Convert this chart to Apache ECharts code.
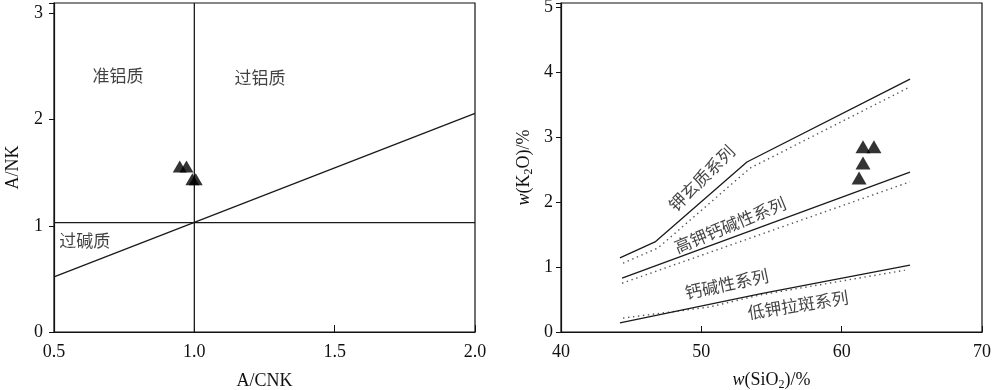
<!DOCTYPE html>
<html><head><meta charset="utf-8">
<script src="https://cdn.jsdelivr.net/npm/echarts@6/dist/echarts.min.js"></script>
<style>html,body{margin:0;padding:0;background:#fff}#c{width:1000px;height:390px}</style>
</head><body><div id="c"></div><script>
// ---- Left diagram: A/NK vs A/CNK ----
const acnk = [0.948, 0.972, 0.993, 1.005];
const ank = [1.56, 1.56, 1.44, 1.44];
const lineVertical = [[1.0, 0], [1.0, 3.1]];
const lineHorizontal = [[0.5, 1.03], [2.0, 1.03]];
const lineDiagonal = [[0.5, 0.52], [2.0, 2.06]];
const leftTextLabels = ['准铝质', '过铝质', '过碱质'];
const leftTextX = [0.728, 1.234, 0.61];
const leftTextY = [2.42, 2.40, 0.865];

// ---- Right diagram: K2O vs SiO2 ----
const sio2 = [61.52, 62.3, 61.52, 61.24];
const k2o = [2.85, 2.85, 2.6, 2.37];
const shoshoniteSolid = [[44.2, 1.14], [46.7, 1.385], [53.25, 2.615], [64.87, 3.89]];
const shoshoniteDotted = [[44.42, 1.06], [46.9, 1.29], [53.47, 2.52], [64.87, 3.77]];
const highKSolid = [[44.35, 0.83], [64.87, 2.46]];
const highKDotted = [[44.35, 0.75], [64.87, 2.31]];
const calcAlkSolid = [[44.2, 0.14], [54.18, 0.585], [64.87, 1.03]];
const calcAlkDotted = [[44.42, 0.215], [50.6, 0.385], [54.18, 0.57], [64.5, 0.95]];
const rightTextLabels = ['钾玄质系列', '高钾钙碱性系列', '钙碱性系列', '低钾拉斑系列'];
const rightTextX = [50.03, 52.04, 51.81, 56.89];
const rightTextY = [2.365, 1.646, 0.738, 0.415];
const rightTextAngle = [45, 22.5, 12, 9];

const serif = '"Liberation Serif", "Times New Roman", serif';
const cjk = '"Noto Sans CJK SC", sans-serif';
const black = '#111';

function intLabel(v) { return Math.abs(v - Math.round(v)) < 1e-6 ? String(Math.round(v)) : ''; }

function solid(data, xi) {
  return { type: 'line', xAxisIndex: xi, yAxisIndex: xi, data: data, symbol: 'none', silent: true,
    lineStyle: { color: '#1a1a1a', width: 1.3 }, z: 3 };
}
function dotted(data, xi) {
  return { type: 'line', xAxisIndex: xi, yAxisIndex: xi, data: data, symbol: 'none', silent: true,
    lineStyle: { color: '#555', width: 1.4, type: [1.4, 3.6] }, z: 2 };
}
function texts(labels, xs, ys, angles, xi) {
  return { type: 'scatter', xAxisIndex: xi, yAxisIndex: xi, silent: true, symbolSize: 1,
    itemStyle: { color: 'rgba(0,0,0,0)' },
    data: labels.map((t, i) => ({ value: [xs[i], ys[i]], name: t,
      label: { rotate: angles ? angles[i] : 0 } })),
    label: { show: true, position: 'inside', formatter: p => p.name, color: '#111',
      fontFamily: cjk, fontSize: 17, align: 'center', verticalAlign: 'middle' }, z: 4 };
}

const axisCommon = {
  axisLine: { show: true, lineStyle: { color: black, width: 1.2 } },
  splitLine: { show: false },
  axisLabel: { color: black, fontFamily: serif, fontSize: 18 },
  nameTextStyle: { color: black, fontFamily: serif, fontSize: 18 },
};
const richName = {
  i: { fontStyle: 'italic', fontFamily: serif, fontSize: 18, color: black },
  s: { fontFamily: serif, fontSize: 12, color: black, verticalAlign: 'bottom', padding: [9, 0, 0, 0] }
};

const option = {
  backgroundColor: '#fff',
  animation: false,
  grid: [
    { left: 54, top: 3, width: 421, height: 329, show: true, borderColor: black, borderWidth: 1.2, outerBoundsMode: 'none' },
    { left: 561, top: 3, width: 421, height: 329, show: true, borderColor: black, borderWidth: 1.2, outerBoundsMode: 'none' }
  ],
  xAxis: [
    Object.assign({}, axisCommon, { type: 'value', gridIndex: 0, min: 0.5, max: 2.0, interval: 0.5,
      name: 'A/CNK', nameLocation: 'middle', nameGap: 40,
      axisTick: { show: true, inside: true, length: 7, lineStyle: { color: black } },
      axisLabel: Object.assign({}, axisCommon.axisLabel, { margin: 11, formatter: v => v.toFixed(1) }) }),
    Object.assign({}, axisCommon, { type: 'value', gridIndex: 1, min: 40, max: 70, interval: 10,
      name: '{i|w}(SiO{s|2})/%', nameLocation: 'middle', nameGap: 38,
      nameTextStyle: { color: black, fontFamily: serif, fontSize: 18, rich: richName },
      axisTick: { show: true, inside: true, length: 6, lineStyle: { color: black } },
      axisLabel: Object.assign({}, axisCommon.axisLabel, { margin: 11 }) })
  ],
  yAxis: [
    Object.assign({}, axisCommon, { type: 'value', gridIndex: 0, min: 0, max: 3.1, interval: 1,
      name: 'A/NK', nameLocation: 'middle', nameGap: 32,
      axisTick: { show: true, inside: false, length: 5, lineStyle: { color: black } },
      axisLabel: Object.assign({}, axisCommon.axisLabel, { margin: 11, formatter: intLabel }) }),
    Object.assign({}, axisCommon, { type: 'value', gridIndex: 1, min: 0, max: 5.06, interval: 1,
      name: '{i|w}(K{s|2}O)/%', nameLocation: 'middle', nameGap: 26,
      nameTextStyle: { color: black, fontFamily: serif, fontSize: 18, rich: richName },
      axisTick: { show: true, inside: false, length: 5, lineStyle: { color: black } },
      axisLabel: Object.assign({}, axisCommon.axisLabel, { margin: 8, formatter: intLabel }) })
  ],
  series: [
    solid(lineVertical, 0), solid(lineHorizontal, 0), solid(lineDiagonal, 0),
    { type: 'scatter', xAxisIndex: 0, yAxisIndex: 0, symbol: 'triangle', symbolSize: [14, 12],
      itemStyle: { color: '#000' }, data: acnk.map((x, i) => [x, ank[i]]), z: 5 },
    texts(leftTextLabels, leftTextX, leftTextY, null, 0),

    solid(shoshoniteSolid, 1), dotted(shoshoniteDotted, 1),
    solid(highKSolid, 1), dotted(highKDotted, 1),
    solid(calcAlkSolid, 1), dotted(calcAlkDotted, 1),
    { type: 'scatter', xAxisIndex: 1, yAxisIndex: 1, symbol: 'triangle', symbolSize: [15, 13],
      itemStyle: { color: '#000' }, data: sio2.map((x, i) => [x, k2o[i]]), z: 5 },
    texts(rightTextLabels, rightTextX, rightTextY, rightTextAngle, 1)
  ]
};
echarts.init(document.getElementById('c'), null, { renderer: 'canvas' }).setOption(option);
</script></body></html>
